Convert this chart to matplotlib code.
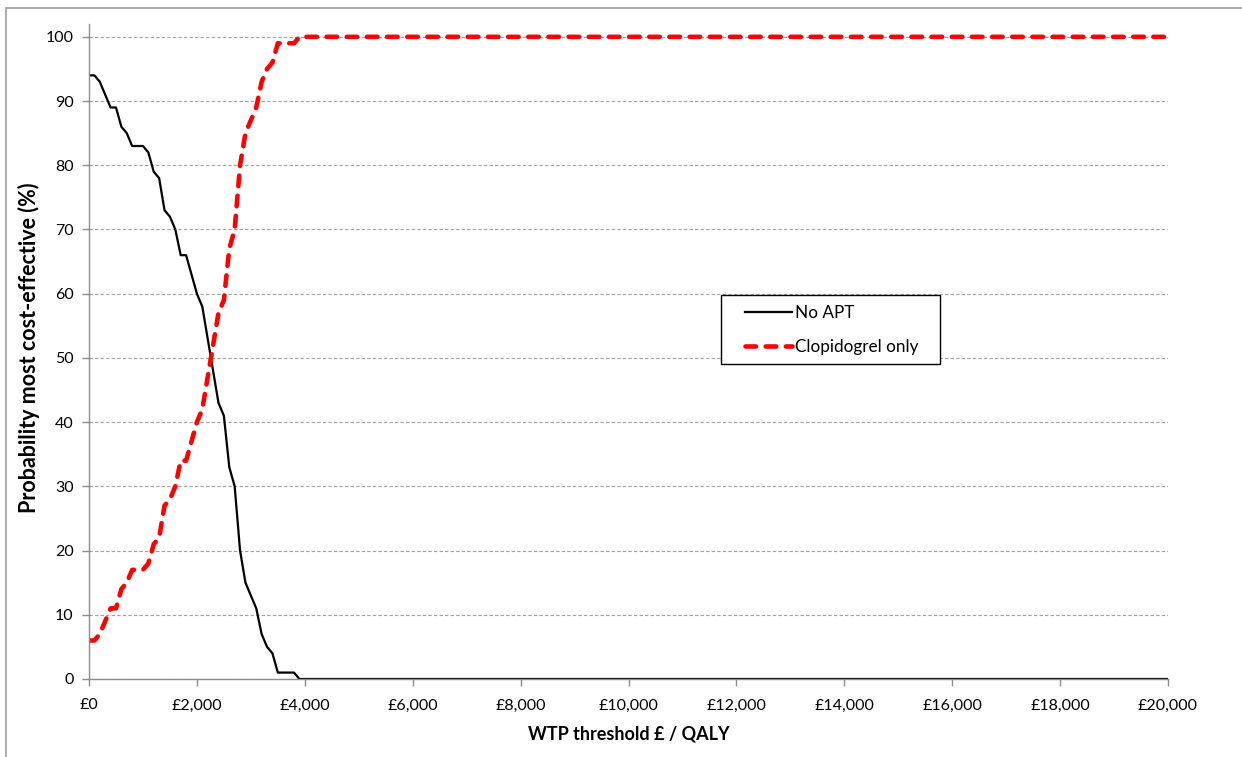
import matplotlib
matplotlib.use("Agg")
import matplotlib.pyplot as plt
from matplotlib.patches import Rectangle

plt.rcParams['font.family'] = ['Lato', 'DejaVu Sans']

# WTP thresholds (GBP per QALY)
wtp = [0, 100, 200, 300, 400, 500, 600, 700, 800, 900,
       1000, 1100, 1200, 1300, 1400, 1500, 1600, 1700, 1800, 1900,
       2000, 2100, 2200, 2300, 2400, 2500, 2600, 2700, 2800, 2900,
       3000, 3100, 3200, 3300, 3400, 3500, 3600, 3700, 3800, 3900,
       4000, 20000]

no_apt = [94, 94, 93, 91, 89, 89, 86, 85, 83, 83,
          83, 82, 79, 78, 73, 72, 70, 66, 66, 63,
          60, 58, 53, 48, 43, 41, 33, 30, 20, 15,
          13, 11, 7, 5, 4, 1, 1, 1, 1, 0,
          0, 0]

clopidogrel = [6, 6, 7, 9, 11, 11, 14, 15, 17, 17,
               17, 18, 21, 22, 27, 28, 30, 34, 34, 37,
               40, 42, 47, 52, 57, 59, 67, 70, 80, 85,
               87, 89, 93, 95, 96, 99, 99, 99, 99, 100,
               100, 100]

x_ticks = list(range(0, 20001, 2000))
x_labels = ["£0", "£2,000", "£4,000", "£6,000", "£8,000", "£10,000",
            "£12,000", "£14,000", "£16,000", "£18,000", "£20,000"]
y_ticks = list(range(0, 101, 10))

W, H = 1242, 757
fig = plt.figure(figsize=(W / 100, H / 100), dpi=100)
ax = fig.add_axes([89 / W, 1 - 679 / H, (1168 - 89) / W, (679 - 24) / H])

# chart-area border (only left and top edges visible in the original)
fig.patches.append(Rectangle((6 / W, -0.2), 1.2, 1.2 - 8 / H,
                             transform=fig.transFigure, fill=False,
                             edgecolor="#a6a6a6", linewidth=1.3))

ax.plot(wtp, no_apt, color="black", linewidth=1.6, label="No APT")
ax.plot(wtp, clopidogrel, color="#ff0000", linewidth=3.3,
        dashes=(2.3, 2.1), dash_capstyle="round", label="Clopidogrel only")

ax.set_xlim(0, 20000)
ax.set_ylim(0, 102)
ax.set_xticks(x_ticks)
ax.set_xticklabels(x_labels)
ax.set_yticks(y_ticks)

ax.grid(axis="y", color="#a0a0a0", linestyle=(0, (3, 2)), linewidth=0.8)
ax.set_axisbelow(True)

for s in ["top", "right"]:
    ax.spines[s].set_visible(False)
for s in ["left", "bottom"]:
    ax.spines[s].set_color("#8c8c8c")
    ax.spines[s].set_linewidth(1.0)

ax.tick_params(axis="both", colors="#8c8c8c", labelcolor="black",
               labelsize=11.5, length=5, width=1.0)
ax.tick_params(axis="x", pad=9)
ax.tick_params(axis="y", pad=6)

ax.set_xlabel("WTP threshold £ / QALY", fontsize=13, fontweight="bold")
ax.set_ylabel("Probability most cost-effective (%)", fontsize=15.5, fontweight="bold")
ax.xaxis.set_label_coords(0.5, -0.071)
ax.yaxis.set_label_coords(-0.045, 0.505)

# legend: entries without frame, box drawn separately (Excel-style padding)
leg = ax.legend(loc="upper left", bbox_to_anchor=(745 / W, 1 - 305 / H),
                bbox_transform=fig.transFigure, borderaxespad=0, borderpad=0,
                frameon=False, fontsize=12.3, handlelength=2.75,
                labelspacing=1.05, handletextpad=0.2)
leg.set_zorder(6)
box = Rectangle((721 / W, 1 - 364 / H), (940 - 721) / W, (364 - 295) / H,
                transform=fig.transFigure, facecolor="white",
                edgecolor="black", linewidth=1.0, zorder=5, clip_on=False)
ax.add_artist(box)

fig.savefig("out.png", dpi=100)
